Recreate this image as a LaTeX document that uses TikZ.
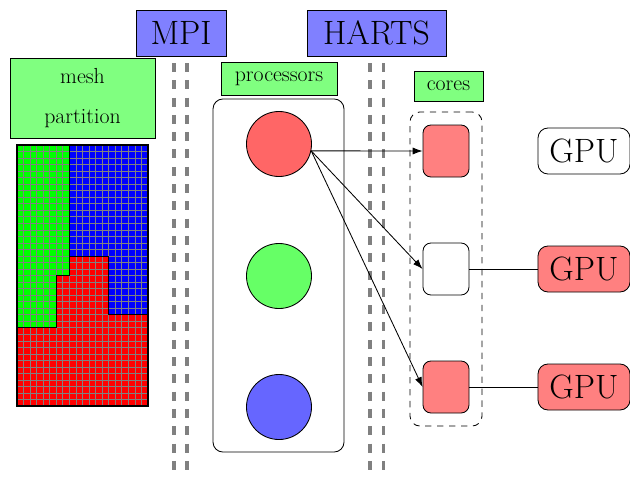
\documentclass[tikz,border=0pt]{standalone}
\usepackage{tikz}
\usepackage{xcolor}
\usetikzlibrary{arrows.meta, calc, positioning}

\tikzset{
    bigbox/.style={draw, fill=blue!50, line width=0.6pt, minimum height=1.15cm, font=\fontsize{24}{29}\selectfont},
    labelbox/.style={draw, fill=green!50, line width=0.6pt, font=\fontsize{15.5}{18}\selectfont},
    proc/.style={draw, circle, line width=0.6pt, minimum size=1.625cm},
    core/.style={draw, rounded corners=0.2cm, line width=0.6pt, minimum width=1.15cm, minimum height=1.3cm},
    gpu/.style={draw, rounded corners=0.25cm, line width=0.6pt, minimum width=2.3cm, minimum height=1.15cm, font=\fontsize{24}{29}\selectfont},
    sepline/.style={gray, line width=2.2pt, dash pattern=on 6.4pt off 5.9pt}
}

\begin{document}
\begin{tikzpicture}[x=0.025cm, y=-0.025cm, >={Latex[length=7pt, width=5pt]}, line width=0.6pt]
    \useasboundingbox (0,0) rectangle (630,476);

    % headers
    \node[bigbox, minimum width=2.25cm] (mpi) at (181, 33) {MPI};
    \node[bigbox, minimum width=3.475cm] (harts) at (376.5, 33) {HARTS};

    % separators
    \draw[sepline] (174, 63) -- (174, 480);
    \draw[sepline] (187, 63) -- (187, 480);
    \draw[sepline] (370, 63) -- (370, 480);
    \draw[sepline] (383.5, 63) -- (383.5, 480);

    % mesh
    \node[labelbox, minimum width=3.625cm, minimum height=2cm, align=center,
          font=\fontsize{15.5}{29}\selectfont] (meshlabel) at (82.5, 98) {mesh\\partition};
    \begin{scope}[shift={(17, 145)}, x=0.16375cm, y=-0.16325cm]
        \fill[green] (0,0) -- (8,0) -- (8,20) -- (6,20) -- (6,28) -- (0,28) -- cycle;
        \fill[blue] (8,0) -- (20,0) -- (20,26) -- (14,26) -- (14,17) -- (8,17) -- cycle;
        \fill[red] (0,28) -- (6,28) -- (6,20) -- (8,20) -- (8,17) -- (14,17) -- (14,26)
            -- (20,26) -- (20,40) -- (0,40) -- cycle;
        \foreach \i in {1,...,19} {
            \draw[gray] (\i, 0) -- (\i, 40);
        }
        \foreach \j in {1,...,39} {
            \draw[gray] (0, \j) -- (20, \j);
        }
        \draw (0,28) -- (6,28) -- (6,20) -- (8,20) -- (8,0);
        \draw (8,17) -- (14,17) -- (14,26) -- (20,26);
        \draw[line width=1.6pt] (0,0) rectangle (20,40);
    \end{scope}

    % processors
    \node[labelbox, minimum width=2.9cm, minimum height=0.825cm] (proclabel) at (279, 78.5) {processors};
    \node[draw, rounded corners=0.25cm, minimum width=3.275cm, minimum height=8.825cm] (procbox) at (278.5, 275.5) {};
    \node[proc, fill=red!60] (p1) at (279, 144) {};
    \node[proc, fill=green!60] (p2) at (279, 276) {};
    \node[proc, fill=blue!60] (p3) at (279, 407) {};

    % cores
    \node[labelbox, minimum width=1.725cm, minimum height=0.75cm] (corelabel) at (448.5, 86) {cores};
    \node[draw, dash pattern=on 4.5pt off 4pt, rounded corners=0.25cm, minimum width=1.8cm, minimum height=7.85cm] (corebox) at (446, 269) {};
    \node[core, fill=red!50] (c1) at (446, 151) {};
    \node[core, fill=white] (c2) at (446, 269) {};
    \node[core, fill=red!50] (c3) at (446, 387) {};

    % gpus
    \node[gpu, fill=white] (g1) at (584, 151) {GPU};
    \node[gpu, fill=red!50] (g2) at (584, 269) {GPU};
    \node[gpu, fill=red!50] (g3) at (584, 387) {GPU};

    \draw
    (p1.-12) edge[->] (c1.west)
    (p1.-12) edge[->] (c2.west)
    (p1.-12) edge[->] (c3.west)
    (c2.east) edge (g2.west)
    (c3.east) edge (g3.west);
\end{tikzpicture}
\end{document}
